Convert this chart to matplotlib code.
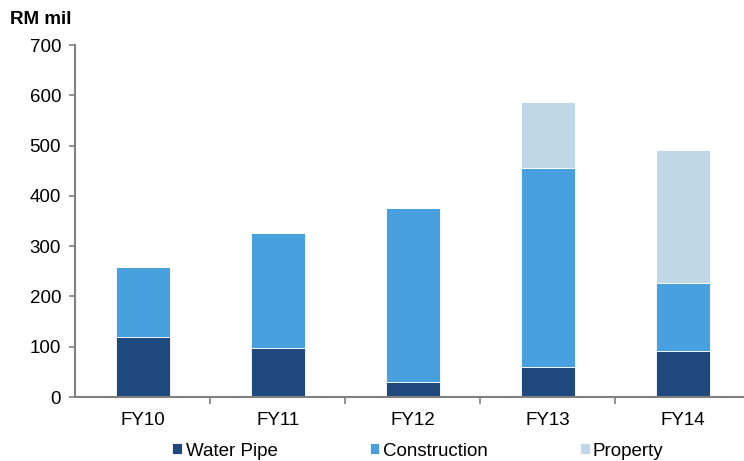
import matplotlib
matplotlib.use("Agg")
import matplotlib.pyplot as plt
import numpy as np

plt.rcParams['font.family'] = ['Liberation Sans', 'DejaVu Sans']

categories = ["FY10", "FY11", "FY12", "FY13", "FY14"]
water_pipe = [120, 97, 30, 60, 92]
construction = [138, 230, 346, 395, 135]
property_ = [0, 0, 0, 132, 265]
yticks = [0, 100, 200, 300, 400, 500, 600, 700]

c_water = "#1F497D"
c_cons = "#48A0DF"
c_prop = "#C0D7E8"
FS = 13.5

fig = plt.figure(figsize=(7.44, 4.61), dpi=100)
ax = fig.add_axes([75/744, 1-397/461, (743-75)/744, (397-45)/461])

x = np.arange(len(categories))
w = 0.4
wp = np.array(water_pipe)
cs = np.array(construction)
pr = np.array(property_)
ax.bar(x, wp, w, color=c_water, edgecolor="white", linewidth=0.6, label="Water Pipe")
ax.bar(x, cs, w, bottom=wp, color=c_cons, edgecolor="white", linewidth=0.6, label="Construction")
ax.bar(x, pr, w, bottom=wp+cs, color=c_prop, edgecolor="white", linewidth=0.6, label="Property")

ax.set_ylim(0, 700)
ax.set_xlim(-0.5, 4.444)
ax.set_yticks(yticks)
ax.set_xticks(x)
ax.set_xticklabels(categories)
ax.set_xticks(np.arange(0.5, len(categories)-1, 1), minor=True)

for s in ["top", "right"]:
    ax.spines[s].set_visible(False)
for s in ["left", "bottom"]:
    ax.spines[s].set_color("#808080")
    ax.spines[s].set_linewidth(1.5)

ax.tick_params(axis="y", which="major", direction="out", length=4, width=1.2,
               color="#808080", pad=6, labelsize=FS)
ax.tick_params(axis="x", which="major", length=0, pad=11, labelsize=FS)
ax.tick_params(axis="x", which="minor", direction="out", length=5, width=1.2, color="#808080")

fig.text(10/744, 1-19/461, "RM mil", fontsize=FS, fontweight="bold", va="center", ha="left")

leg = fig.legend(loc="center", bbox_to_anchor=(418/744, 1-451/461), ncol=3, frameon=False,
                 fontsize=FS, handlelength=0.53, handleheight=0.53, handletextpad=0.18,
                 columnspacing=4.9, borderpad=0)

fig.savefig("out.png", dpi=100)
